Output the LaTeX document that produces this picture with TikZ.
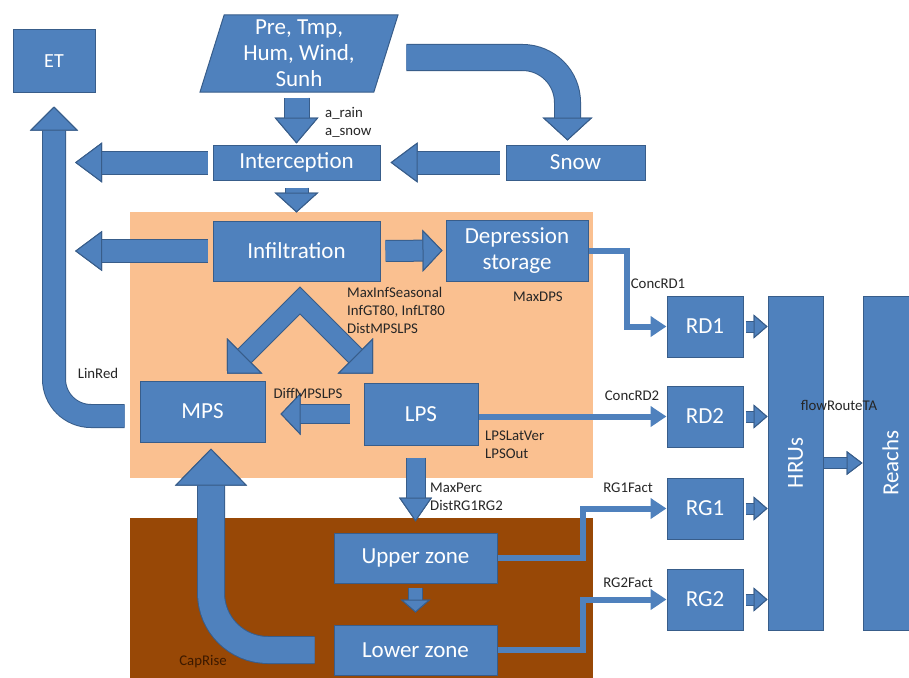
\documentclass[tikz,border=0pt]{standalone}
\usepackage{fontspec}
\setmainfont{Carlito}
\usetikzlibrary{arrows.meta, calc, positioning, shapes.geometric}

\definecolor{boxblue}{RGB}{79,129,189}
\definecolor{boxline}{RGB}{56,93,138}
\definecolor{soilorange}{RGB}{250,192,144}
\definecolor{soilbrown}{RGB}{152,72,6}
\definecolor{lbltext}{RGB}{38,38,38}
\definecolor{capcolor}{RGB}{60,25,0}

\tikzset{
  box/.style={draw=boxline, fill=boxblue, line width=1pt, text=white, align=center,
    inner sep=0pt, font=\fontsize{23}{26}\selectfont},
  res/.style={box, minimum width=76pt, minimum height=61pt},
  lbl/.style={text=lbltext, align=left, inner sep=0pt, font=\fontsize{14.8}{18}\selectfont},
  flow/.style n args={3}{draw=boxblue, line width=#1, line join=miter,
    >={Triangle[length=#3, width=#2, line width=1pt, color=boxline, fill=boxblue]}, ->,
    preaction={draw=boxline, line width=#1+2pt}},
  link/.style={draw=boxblue, line width=6pt, -{Triangle[length=16pt, width=20pt]}},
}

\begin{document}
\begin{tikzpicture}[x=1pt, y=-1pt]
  \useasboundingbox[fill=white] (0,0) rectangle (909,677);
  % soil layers
  \fill[soilorange] (130,212) rectangle (593,478);
  \fill[soilbrown] (130,518) rectangle (593,690);

  \node[box, minimum width=82pt, minimum height=62pt, font=\fontsize{20}{24}\selectfont] (et) at (54,61) {ET};
  \node[box, trapezium, trapezium left angle=75, trapezium right angle=105, trapezium stretches=true,
    minimum width=198pt, minimum height=77pt] (met) at (299,53.5) {Pre, Tmp,\\Hum, Wind,\\Sunh};
  \node[box, minimum width=167pt, minimum height=35pt] (intc) at (296.5,162.5) {Interception};
  \node[box, minimum width=139pt, minimum height=35pt] (snow) at (575.5,162.5) {Snow};
  \node[box, minimum width=167pt, minimum height=60pt] (infl) at (296.5,251) {Infiltration};
  \node[box, minimum width=142pt, minimum height=61pt] (dps) at (517,250.5) {Depression\\storage};
  \node[box, minimum width=125pt, minimum height=61pt] (mps) at (202.5,411.5) {MPS};
  \node[box, minimum width=114pt, minimum height=62pt] (lps) at (421,414) {LPS};
  \node[box, minimum width=163pt, minimum height=50pt] (upz) at (415.5,558) {Upper zone};
  \node[box, minimum width=163pt, minimum height=50pt] (loz) at (415.5,650) {Lower zone};
  \node[res] (rd1) at (705,326.5) {RD1};
  \node[res] (rd2) at (705,416.5) {RD2};
  \node[res] (rg1) at (705,508.5) {RG1};
  \node[res] (rg2) at (705,599.5) {RG2};
  \node[box, minimum width=55pt, minimum height=334pt] (hrus) at (795.5,463) {\rotatebox{90}{HRUs}};
  \node[box, minimum width=55pt, minimum height=334pt] (reach) at (890.5,463) {\rotatebox{90}{Reachs}};

  \coordinate (etx) at (75,0);
  \draw[flow={24pt}{44pt}{26pt}, shorten <=5pt, shorten >=1pt] (intc.north |- met.south) -- (intc.north);
  \node[lbl, anchor=west] (lrain) at (325,122) {a\_rain\\a\_snow};
  \draw[flow={22pt}{40pt}{27pt}, shorten <=5pt] (intc.west) -- (intc.west -| etx);
  \draw[flow={22pt}{40pt}{27pt}, shorten <=6pt, shorten >=10pt] (snow.west) -- (intc.east);
  \draw[flow={25pt}{50pt}{23pt}, rounded corners=45pt, shorten >=4pt] ($(met.east)+(20,4)$) -| ($(snow.north)+(-8,0)$);
  \draw[flow={22pt}{44pt}{20pt}, shorten <=7pt, shorten >=8pt] (intc.south) -- (infl.north);
  \draw[flow={22pt}{40pt}{27pt}, shorten <=5pt] (infl.west) -- (infl.west -| etx);
  \draw[flow={20pt}{42pt}{20pt}, shorten <=5pt, shorten >=3pt] (infl.east) -- (dps.west);

  % split to MPS and LPS
  \coordinate (split) at ($(infl.south)+(3.5,19)$);
  \coordinate (splitl) at ($(split)+(-73,73)$);
  \coordinate (splitr) at ($(split)+(73,73)$);
  \draw[flow={18pt}{50pt}{25pt}, <->] (splitl) -- (split) -- (splitr);
  \node[lbl, anchor=west] (linf) at (347,310) {MaxInfSeasonal\\InfGT80, InfLT80\\DistMPSLPS};
  \node[lbl] (ldps) at (538,297) {MaxDPS};

  \draw[flow={18pt}{42pt}{20pt}, shorten <=14pt, shorten >=15pt] (lps.west) -- (lps.west -| mps.east);
  \node[lbl] (ldiff) at (308,393) {DiffMPSLPS};
  \draw[flow={22pt}{48pt}{24pt}, rounded corners=37pt, shorten <=15pt, shorten >=14pt] ($(mps.west)+(0,4.5)$) -| (et.south);
  \node[lbl] (llin) at (98,373) {LinRed};

  \draw[link] (dps.east) -- ++(38,0) |- (rd1.west);
  \node[lbl] (lrd1) at (658,284) {ConcRD1};
  \draw[link] (lps.east |- rd2) -- (rd2.west);
  \node[lbl] (lrd2) at (632,396) {ConcRD2};
  \node[lbl, anchor=west] (llat) at (485,445) {LPSLatVer\\LPSOut};

  \draw[flow={18pt}{33pt}{24pt}, shorten <=12pt, shorten >=11pt] (upz.north |- lps.south) -- (upz.north);
  \node[lbl, anchor=west] (lperc) at (430,497) {MaxPerc\\DistRG1RG2};
  \draw[flow={13pt}{30pt}{13pt}, shorten <=4pt, shorten >=12pt] (upz.south) -- (loz.north);
  \draw[link] (upz.east) -- ++(85,0) |- (rg1.west);
  \draw[link] (loz.east) -- ++(85,0) |- (rg2.west);
  \node[lbl] (lrg1) at (628,488) {RG1Fact};
  \node[lbl] (lrg2) at (628,583) {RG2Fact};

  \draw[flow={26pt}{72pt}{37pt}, rounded corners=57pt, shorten <=19pt, shorten >=6pt] (loz.west) -| ($(mps.south)+(8.5,0)$);
  \node[lbl, text=capcolor] (lcap) at (203,662) {CapRise};

  \foreach \r in {rd1,rd2,rg1,rg2}
    \draw[flow={10pt}{24pt}{14pt}, shorten <=2pt] (\r.east) -- (\r.east -| hrus.west);
  \draw[flow={10pt}{24pt}{16pt}] (hrus.east) -- (reach.west);
  \node[lbl] (lroute) at (839,405) {flowRouteTA};
\end{tikzpicture}
\end{document}
